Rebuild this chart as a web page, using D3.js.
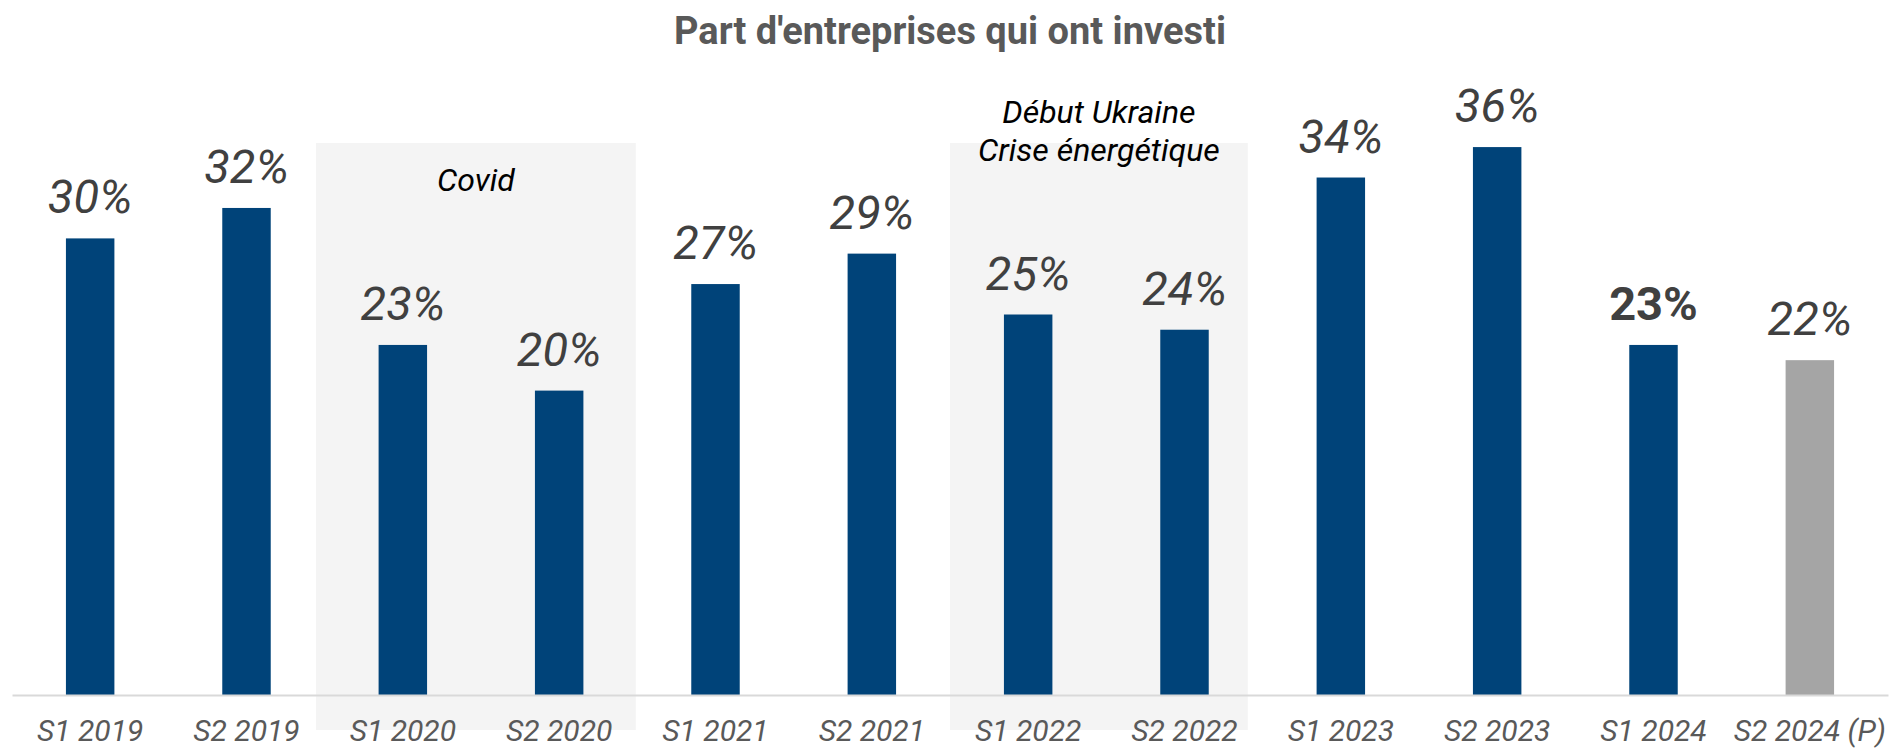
<!DOCTYPE html>
<html lang="fr">
<head>
<meta charset="UTF-8" />
<title>Part d'entreprises qui ont investi</title>
<script src="https://d3js.org/d3.v7.min.js"></script>
<style>
  body { margin: 0; background: #fff; }
  .title { font-family: Roboto, sans-serif; font-weight: bold; fill: #595959; }
  .tick-label { font-family: Roboto, sans-serif; font-style: italic; fill: #595959; }
  .value { font-family: Roboto, sans-serif; font-style: italic; fill: #404040; }
  .note { font-family: Roboto, sans-serif; font-style: italic; fill: #000; }
</style>
</head>
<body>
<div id="chart"></div>
<script>
// data
var periods = ["S1 2019", "S2 2019", "S1 2020", "S2 2020", "S1 2021", "S2 2021",
               "S1 2022", "S2 2022", "S1 2023", "S2 2023", "S1 2024", "S2 2024 (P)"];
var shares = [0.30, 0.32, 0.23, 0.20, 0.27, 0.29, 0.25, 0.24, 0.34, 0.36, 0.23, 0.22];
var forecast = [false, false, false, false, false, false, false, false, false, false, false, true];
var highlight = [false, false, false, false, false, false, false, false, false, false, true, false];

// shaded periods
var zoneLabels = [["Covid"], ["Début Ukraine", "Crise énergétique"]];
var zoneFrom = ["S1 2020", "S1 2022"];
var zoneTo = ["S2 2020", "S2 2022"];

var W = 1893, H = 750;
var baseY = 695;

var svg = d3.select("#chart").append("svg")
  .attr("width", W)
  .attr("height", H);

var x = d3.scaleBand()
  .domain(periods)
  .range([12, 1888])
  .paddingInner(0.69)
  .paddingOuter(0.345);

var y = d3.scaleLinear()
  .domain([0, 0.45])
  .range([baseY, baseY - 0.45 * 1522]);

var step = x.step();
var mid = function(p) { return x(p) + x.bandwidth() / 2; };

var zoneOff = [[-0.555, 0.49], [-0.5, 0.405]];
var zoneTextY = [[191], [123, 161]];

zoneLabels.forEach(function(lines, i) {
  var x0 = mid(zoneFrom[i]) + zoneOff[i][0] * step;
  var x1 = mid(zoneTo[i]) + zoneOff[i][1] * step;
  svg.append("rect")
    .attr("x", x0)
    .attr("y", 143)
    .attr("width", x1 - x0)
    .attr("height", 730 - 143)
    .attr("fill", "#f4f4f4");
  lines.forEach(function(t, j) {
    svg.append("text")
      .attr("class", "note")
      .attr("x", (x0 + x1) / 2)
      .attr("y", zoneTextY[i][j])
      .attr("text-anchor", "middle")
      .style("font-size", "32px")
      .text(t);
  });
});

// bars
svg.selectAll(".bar")
  .data(periods)
  .enter()
  .append("rect")
    .attr("class", "bar")
    .attr("x", function(d) { return x(d); })
    .attr("width", x.bandwidth())
    .attr("y", function(d, i) { return y(shares[i]); })
    .attr("height", function(d, i) { return baseY - y(shares[i]); })
    .attr("fill", function(d, i) { return forecast[i] ? "#a5a5a5" : "#004379"; });

// value labels
svg.selectAll(".value")
  .data(periods)
  .enter()
  .append("text")
    .attr("class", "value")
    .attr("x", function(d) { return mid(d); })
    .attr("y", function(d, i) { return y(shares[i]) - 25; })
    .attr("text-anchor", "middle")
    .style("font-size", "47px")
    .style("font-style", function(d, i) { return highlight[i] ? "normal" : "italic"; })
    .style("font-weight", function(d, i) { return highlight[i] ? "bold" : "normal"; })
    .text(function(d, i) { return d3.format(".0%")(shares[i]); });

// x axis
var xAxis = svg.append("g")
  .attr("transform", "translate(0," + baseY + ")")
  .call(d3.axisBottom(x).tickSize(0).tickPadding(0));
xAxis.select(".domain")
  .attr("stroke", "#d9d9d9")
  .attr("stroke-width", 2);
xAxis.selectAll(".tick text")
  .attr("class", "tick-label")
  .attr("dy", null)
  .attr("y", 46)
  .attr("fill", null)
  .style("font-size", "30px")
  .attr("font-family", null)
  .attr("font-size", null);

// title
svg.append("text")
  .attr("class", "title")
  .attr("x", 950)
  .attr("y", 44)
  .attr("text-anchor", "middle")
  .style("font-size", "38px")
  .text("Part d'entreprises qui ont investi");
</script>
</body>
</html>
